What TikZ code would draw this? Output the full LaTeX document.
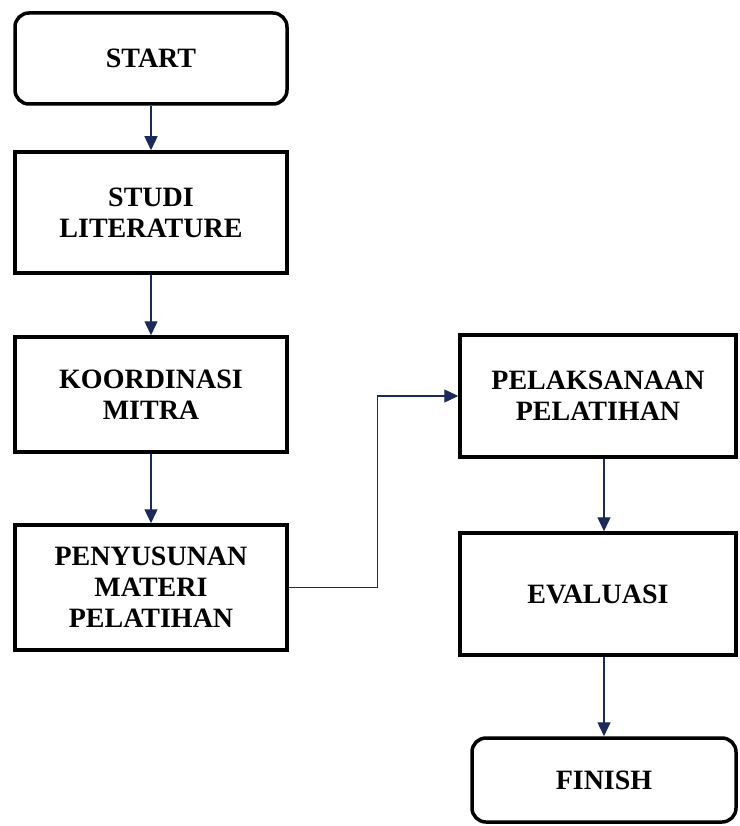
\documentclass[tikz,border=0pt]{standalone}
\usepackage{fontspec}
\setmainfont{Liberation Serif}
\usetikzlibrary{arrows.meta}
\definecolor{navy}{HTML}{1B2A5E}
\tikzset{
  box/.style={draw=black, line width=3.5pt, fill=white, inner sep=0pt, align=center,
    font=\fontsize{28}{31}\selectfont\bfseries},
  rbox/.style={box, rounded corners=14pt},
  flow/.style={draw=navy, line width=1.4pt, -{Triangle[width=13pt,length=14pt]}}
}
\begin{document}
\begin{tikzpicture}[x=1pt,y=-1pt]
\useasboundingbox (0,0) rectangle (739,826);
\node[rbox, minimum width=272pt, minimum height=91pt] (start) at (151,58.5) {START};
\node[box, minimum width=272pt, minimum height=121pt] (studi) at (151,212.5) {STUDI\\LITERATURE};
\node[box, minimum width=272pt, minimum height=115pt] (koor) at (151,394.5) {KOORDINASI\\MITRA};
\node[box, minimum width=272pt, minimum height=125pt] (pen) at (151,587.5) {PENYUSUNAN\\MATERI\\PELATIHAN};
\node[box, minimum width=276pt, minimum height=122pt] (pel) at (598,396) {PELAKSANAAN\\PELATIHAN};
\node[box, minimum width=276pt, minimum height=122pt] (eva) at (598,594) {EVALUASI};
\node[rbox, minimum width=264pt, minimum height=84pt] (fin) at (604,780) {FINISH};
\draw[flow] (start) -- (studi);
\draw[flow] (studi) -- (koor);
\draw[flow] (koor) -- (pen);
\draw[flow] (pen.east) -- ++(89,0) |- (pel.west);
\draw[flow] (pel.south -| fin.north) -- (eva.north -| fin.north);
\draw[flow] (eva.south -| fin.north) -- (fin.north);
\end{tikzpicture}
\end{document}
